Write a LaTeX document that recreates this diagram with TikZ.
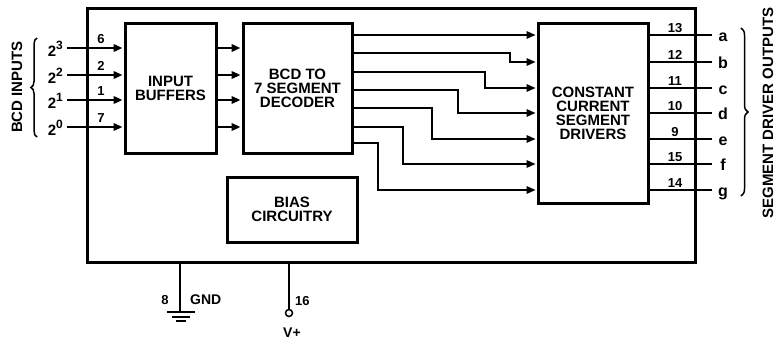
\documentclass[tikz,border=0pt]{standalone}
\usepackage{fontspec}
\setmainfont{Liberation Sans Bold}
\usetikzlibrary{arrows.meta,decorations.pathreplacing,calc}
\begin{document}
\begin{tikzpicture}[x=1pt,y=-1pt,
  chipbox/.style={draw, line width=3pt, inner sep=0pt},
  blk/.style={draw, line width=3pt, inner sep=0pt, align=center,
    font=\fontsize{15}{14}\selectfont},
  sig/.style={line width=2pt, -{Triangle[length=9pt,width=7.5pt]}, shorten >=1pt},
  dsig/.style={line width=1.6pt, -{Triangle[length=9pt,width=7.5pt]}, shorten >=1pt},
  osig/.style={line width=2pt},
  pinf/.style={inner sep=0pt, font=\fontsize{13}{13}\selectfont},
  lblf/.style={inner sep=0pt, font=\fontsize{15}{15}\selectfont},
  segf/.style={inner sep=0pt, font=\fontsize{16}{16}\selectfont},
  brc/.style={line width=1.5pt, decorate},
]
\useasboundingbox (0,0) rectangle (777,340);

% chip outline and blocks
\node[chipbox, minimum width=608pt, minimum height=254pt] (chip) at (391,135) {};
\node[blk, minimum width=91pt, minimum height=130pt] (buf) at (170.5,88) {INPUT\\BUFFERS};
\node[blk, minimum width=109pt, minimum height=130pt] (dec) at (297.5,88) {BCD TO\\7 SEGMENT\\DECODER};
\node[blk, minimum width=130pt, minimum height=65pt] (bias) at (292,209.5) {BIAS\\CIRCUITRY};
\node[blk, minimum width=110pt, minimum height=180pt] (drv) at (593,113) {CONSTANT\\CURRENT\\SEGMENT\\DRIVERS};

% inputs
\foreach \yy/\pin/\ex [count=\i] in {48/6/3, 75/2/2, 100/1/1, 127/7/0} {
  \coordinate (in\i) at (67,\yy);
  \draw[sig] (in\i) -- (in\i -| buf.west);
  \draw[sig] (in\i -| buf.east) -- (in\i -| dec.west);
  \node[pinf, anchor=base] (pin\i) at (101,\yy-5) {\pin};
  \node[lblf, anchor=base east] (bit\i) at (63,\yy+8) {2\raisebox{0.45em}{\fontsize{12}{12}\selectfont\ex}};
}

% decoder to drivers
\draw[dsig] (dec.east |- 0,35) -- (drv.west |- 0,35);
\foreach \ya/\xb/\yb [count=\i] in {53/510/62, 72/485/88, 90/458/113, 108/432/139, 127/403/164, 143/378/190} {
  \draw[dsig] (dec.east |- 0,\ya) -| (\xb,\yb) -- (drv.west |- 0,\yb);
}

% outputs
\foreach \yy/\pin/\seg [count=\i] in {35/13/a, 62/12/b, 88/11/c, 113/10/d, 139/9/e, 164/15/f, 190/14/g} {
  \coordinate (o\i) at (712,\yy);
  \draw[osig] (o\i -| drv.east) -- (o\i);
  \node[pinf, anchor=base] (opin\i) at (675,\yy-3) {\pin};
  \node[segf, anchor=base] (seg\i) at (723,\yy+6) {\seg};
}

% braces and side labels
\draw[brc, decoration={brace, amplitude=6pt}] (37,137) -- (37,38);
\draw[brc, decoration={brace, amplitude=7pt}] (741,28) -- (741,196);
\node[lblf, rotate=90] (bcdlbl) at (17,87) {BCD INPUTS};
\node[lblf, rotate=90] (sdolbl) at (768,113) {SEGMENT DRIVER OUTPUTS};

% ground
\coordinate (gnd) at (180,312);
\draw[line width=2pt] (chip.south -| gnd) -- (gnd);
\draw[line width=1.8pt] ($(gnd)+(-13,0)$) -- ($(gnd)+(15,0)$)
  ($(gnd)+(-8,5)$) -- ($(gnd)+(10,5)$)
  ($(gnd)+(-4,9)$) -- ($(gnd)+(6,9)$);
\node[pinf, anchor=base] (pin8) at (165,304) {8};
\node[lblf, anchor=base west, font=\fontsize{14}{14}\selectfont] (gndlbl) at (190,304) {GND};

% V+
\node[circle, draw, line width=1.5pt, minimum size=7pt, inner sep=0pt] (vp) at (289,313) {};
\draw[line width=2pt] (chip.south -| vp) -- (vp.north);
\node[pinf, anchor=base west] (pin16) at (295,305) {16};
\node[lblf, anchor=base, font=\fontsize{14}{14}\selectfont] (vplbl) at (292,337) {V+};
\end{tikzpicture}
\end{document}
